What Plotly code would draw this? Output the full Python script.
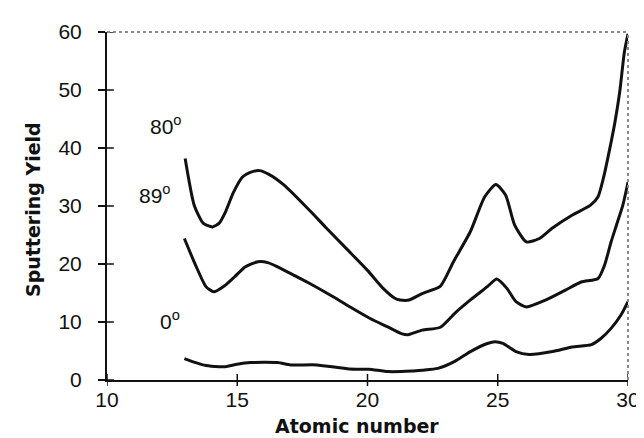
import plotly.graph_objects as go

# ---- data ----
x80 = [13.0, 13.35, 13.7, 14.05, 14.3, 14.55, 14.85, 15.2, 15.5, 15.85, 16.2, 16.8, 17.7, 18.4, 19.2, 20.0,
       20.6, 21.05, 21.25, 21.6, 22.1, 22.8, 23.3, 23.95, 24.5, 24.93, 25.3, 25.65, 26.1, 26.6, 27.1, 27.85,
       28.55, 28.85, 29.05, 29.3, 29.5, 29.68, 29.86, 30.0]
y80 = [38.2, 30.1, 27.0, 26.4, 27.0, 29.0, 32.3, 35.0, 35.8, 36.1, 35.5, 33.6, 29.6, 26.3, 22.6, 18.9,
       15.8, 14.1, 13.8, 13.8, 14.9, 16.2, 20.4, 25.6, 31.6, 33.7, 31.9, 26.7, 23.8, 24.4, 26.2, 28.4,
       30.1, 31.6, 34.7, 39.9, 44.5, 49.6, 56.5, 59.7]

x89 = [12.97, 13.4, 13.8, 14.1, 14.5, 14.9, 15.3, 15.8, 16.2, 16.55, 17.2, 17.8, 18.7, 19.4, 20.1, 20.8,
       21.3, 21.55, 22.1, 22.8, 23.35, 23.95, 24.6, 24.96, 25.35, 25.7, 26.1, 26.85, 27.6, 28.2, 28.85,
       29.1, 29.35, 29.55, 29.8, 30.0]
y89 = [24.4, 19.8, 16.1, 15.2, 16.2, 17.8, 19.5, 20.4, 20.2, 19.5, 18.0, 16.6, 14.3, 12.4, 10.6, 9.1,
       8.0, 7.8, 8.6, 9.1, 11.5, 13.8, 16.1, 17.4, 15.8, 13.5, 12.6, 13.8, 15.5, 16.9, 17.5,
       19.8, 23.8, 26.6, 30.1, 34.1]

x0 = [12.97, 13.4, 13.8, 14.3, 14.55, 15.0, 15.5, 16.55, 17.05, 18.05, 19.3, 20.05, 20.8, 21.7, 22.1,
      22.7, 23.35, 23.95, 24.6, 24.9, 25.2, 25.7, 26.2, 27.1, 27.85, 28.6, 28.97, 29.35, 29.73, 30.0]
y0 = [3.7, 3.0, 2.5, 2.3, 2.3, 2.7, 3.0, 3.0, 2.6, 2.6, 1.9, 1.85, 1.45, 1.55, 1.7,
      2.0, 3.2, 4.9, 6.3, 6.6, 6.3, 4.9, 4.4, 4.9, 5.7, 6.1, 7.2, 8.9, 11.2, 13.5]

series_labels = ["80<sup>o</sup>", "89<sup>o</sup>", "0<sup>o</sup>"]
label_x = [12.28, 11.83, 12.4]
label_y = [44.0, 32.0, 10.4]

x_ticks = [10, 15, 20, 25, 30]
y_ticks = [0, 10, 20, 30, 40, 50, 60]
x_range = [10, 30]
y_range = [0, 60]

W, H = 644, 438
M = dict(l=99, r=13, t=23, b=66)
plot_w = W - M["l"] - M["r"]
plot_h = H - M["t"] - M["b"]

tick_font = dict(family="Liberation Sans", size=21, color="#111")
title_font = dict(family="DejaVu Sans", size=19, color="#111", weight="bold")

fig = go.Figure()
for xs, ys in [(x80, y80), (x89, y89), (x0, y0)]:
    fig.add_trace(go.Scatter(x=xs, y=ys, mode="lines",
                             line=dict(color="#111", width=3, shape="spline", smoothing=0.6),
                             showlegend=False, hoverinfo="skip"))

for t, lx, ly in zip(series_labels, label_x, label_y):
    fig.add_annotation(x=lx, y=ly, text=t, showarrow=False, font=tick_font)

fig.add_annotation(xref="paper", yref="paper", x=(354 - M["l"]) / plot_w, xanchor="center",
                   y=-(418 - M["t"] - plot_h) / plot_h, yanchor="middle",
                   text="Atomic number", showarrow=False, font=title_font)
fig.add_annotation(xref="paper", yref="paper", x=(24 - M["l"]) / plot_w, xanchor="center",
                   y=(M["t"] + plot_h - 201) / plot_h, yanchor="middle",
                   text="Sputtering Yield", textangle=-90, showarrow=False, font=title_font)

# crossing ticks on the x axis (both halves) and inner halves on the y axis
shapes = []
for tv in x_ticks:
    shapes.append(dict(type="line", xref="x", yref="paper", x0=tv, x1=tv,
                       y0=-6 / plot_h, y1=6 / plot_h, line=dict(color="#111", width=1.5)))
for tv in y_ticks:
    shapes.append(dict(type="line", xref="paper", yref="y", x0=0, x1=7 / plot_w, y0=tv, y1=tv,
                       line=dict(color="#111", width=1.5)))
# grey frame on top and right
shapes.append(dict(type="line", xref="paper", yref="paper", x0=0, x1=1, y0=1, y1=1,
                   line=dict(color="#8a8a8a", width=2, dash="dot")))
shapes.append(dict(type="line", xref="paper", yref="paper", x0=1, x1=1, y0=0, y1=1,
                   line=dict(color="#8a8a8a", width=2, dash="dot")))

fig.update_layout(
    width=W, height=H,
    margin=M,
    paper_bgcolor="white", plot_bgcolor="white",
    xaxis=dict(range=x_range, tickvals=x_ticks, ticks="", showline=True, linecolor="#111",
               linewidth=2, showgrid=False, zeroline=False, tickfont=tick_font,
               ticklabelstandoff=0, fixedrange=True),
    yaxis=dict(range=y_range, tickvals=y_ticks, ticks="outside", ticklen=7, tickwidth=1.5,
               tickcolor="#111", showline=True, linecolor="#111", linewidth=2, showgrid=False,
               zeroline=False, tickfont=tick_font, ticklabelstandoff=12, fixedrange=True),
    shapes=shapes,
)

fig.write_html("out.html")
